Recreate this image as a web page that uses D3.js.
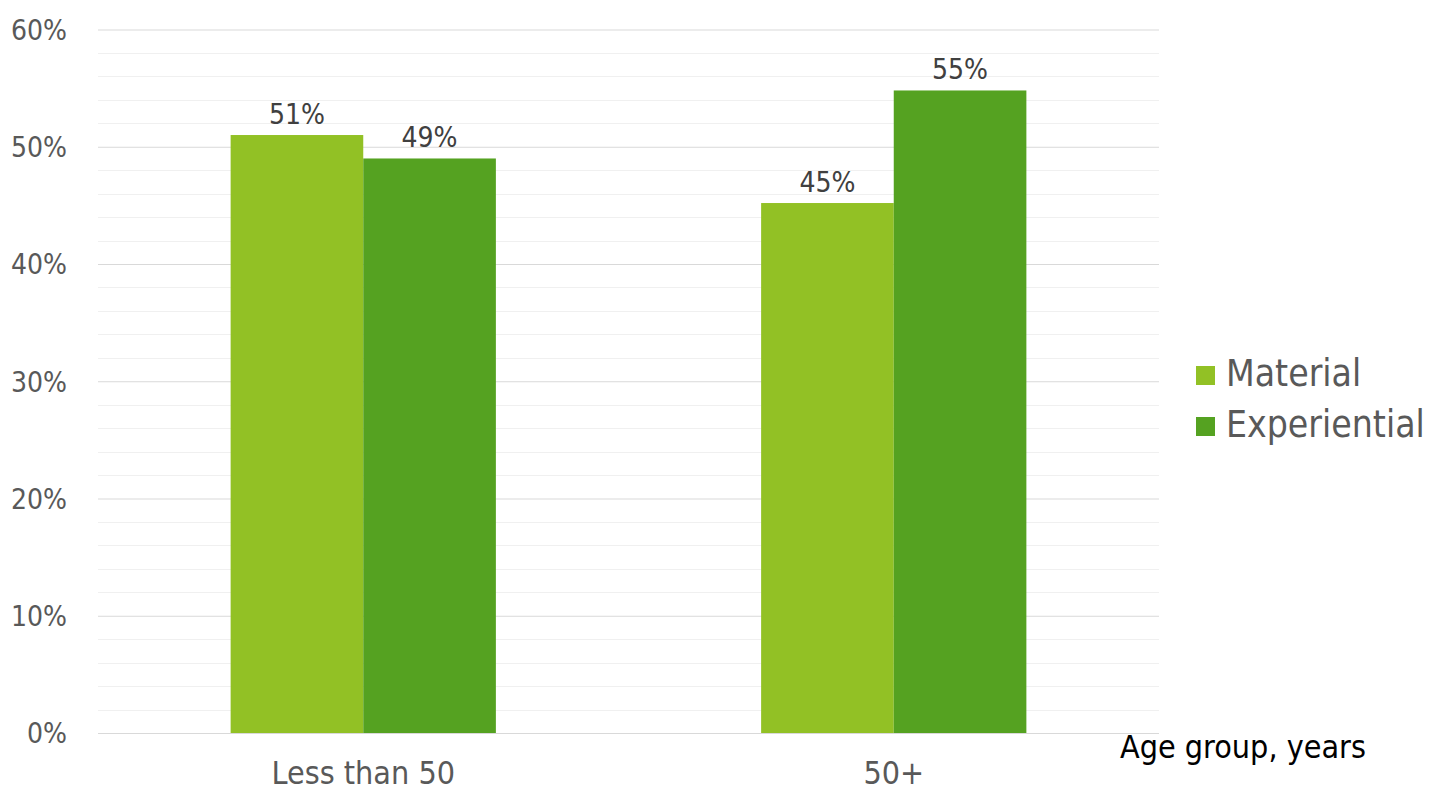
<!DOCTYPE html>
<html><head><meta charset="utf-8">
<script src="https://cdn.jsdelivr.net/npm/d3@7"></script>
<style>
body{margin:0;background:#fff;}
text{font-family:"DejaVu Sans Condensed","DejaVu Sans",sans-serif;font-stretch:condensed;}
</style></head>
<body><svg id="c" width="1449" height="807"></svg>
<script>
const categories = ["Less than 50", "50+"];
const seriesNames = ["Material", "Experiential"];
const material = [51.0, 45.2];
const experiential = [49.0, 54.8];
const yTicks = [0, 10, 20, 30, 40, 50, 60];
const colors = ["#92c125", "#55a221"];
const axisTitle = "Age group, years";

(function(){
const svg = d3.select("#c");
const mLeft = 98, mRight = 1159, mTop = 29.5, mBottom = 733;
const x = d3.scaleBand().domain(categories).range([mLeft, mRight]).paddingInner(0.5).paddingOuter(0.25);
const xs = d3.scaleBand().domain(seriesNames).range([0, x.bandwidth()]);
const y = d3.scaleLinear().domain([0, 60]).range([mBottom, mTop]);

const minor = d3.range(0, 61, 2).filter(v => v % 10 !== 0);
svg.append("g").selectAll("line").data(minor).join("line")
  .attr("x1", mLeft).attr("x2", mRight)
  .attr("y1", d => Math.round(y(d)) + 0.5).attr("y2", d => Math.round(y(d)) + 0.5)
  .attr("stroke", "#f0f0f0").attr("stroke-width", 1);

const yAxis = d3.axisLeft(y).tickValues(yTicks).tickFormat(d => d + "%").tickSize(-(mRight - mLeft)).tickPadding(31);
const gy = svg.append("g").attr("transform", `translate(${mLeft},0)`).call(yAxis);
gy.select(".domain").remove();
gy.selectAll(".tick line").attr("stroke", "#d9d9d9");
gy.selectAll(".tick text").attr("fill", "#595959").style("font-size", "28px").attr("dy", "0.35em");

const data = categories.map((c, i) => ({cat: c, vals: [material[i], experiential[i]]}));
const groups = svg.append("g").selectAll("g").data(data).join("g")
  .attr("transform", d => `translate(${x(d.cat)},0)`);
groups.selectAll("rect").data(d => d.vals.map((v, j) => ({s: seriesNames[j], v, j}))).join("rect")
  .attr("x", d => xs(d.s)).attr("width", xs.bandwidth())
  .attr("y", d => y(d.v)).attr("height", d => y(0) - y(d.v))
  .attr("fill", d => colors[d.j]);
groups.selectAll("text").data(d => d.vals.map((v, j) => ({s: seriesNames[j], v, j}))).join("text")
  .attr("x", d => xs(d.s) + xs.bandwidth() / 2).attr("y", d => y(d.v) - 11)
  .attr("text-anchor", "middle").attr("fill", "#404040").style("font-size", "28px")
  .text(d => Math.round(d.v) + "%");

const xAxis = d3.axisBottom(x).tickSize(0).tickPadding(28);
const gx = svg.append("g").attr("transform", `translate(0,${mBottom})`).call(xAxis);
gx.select(".domain").attr("stroke", "#d9d9d9").attr("d", `M${mLeft},0.5H${mRight}`);
gx.selectAll(".tick text").attr("fill", "#595959").style("font-size", "32px");

svg.append("text").attr("x", 1120).attr("y", 758).attr("fill", "#000").style("font-size", "32px").text(axisTitle);

const lg = svg.append("g").selectAll("g").data(seriesNames).join("g")
  .attr("transform", (d, i) => `translate(1196,${366 + i * 51})`);
lg.append("rect").attr("width", 19).attr("height", 19).attr("fill", (d, i) => colors[i]);
lg.append("text").attr("x", 30).attr("y", 20).attr("fill", "#595959").style("font-size", "37px").text(d => d);
})();
</script></body></html>
